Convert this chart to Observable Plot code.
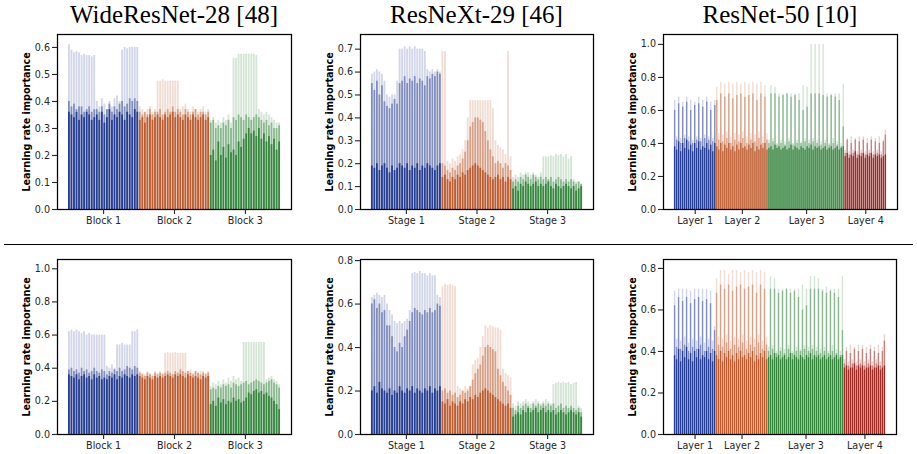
<!DOCTYPE html>
<html><head><meta charset="utf-8">
<script src="https://cdn.jsdelivr.net/npm/d3@7"></script>
<script src="https://cdn.jsdelivr.net/npm/@observablehq/plot@0.6"></script>
<style>
html,body{margin:0;padding:0;background:#fff;}
body{width:917px;height:454px;position:relative;overflow:hidden;font-family:"DejaVu Sans";}
.panel{position:absolute;}
.title{position:absolute;top:2px;font-family:"Liberation Serif";font-size:25px;line-height:1;color:#000;white-space:nowrap;transform:translateX(-50%);}
#sep{position:absolute;left:4px;width:909px;top:243.5px;height:1.3px;background:#000;}
</style></head><body>
<div id="sep"></div>
<script>
// ---------- labels ----------
const titles = ["WideResNet-28 [48]", "ResNeXt-29 [46]", "ResNet-50 [10]"];
const yLabel = "Learning rate importance";
const wrnGroups = ["Block 1", "Block 2", "Block 3"];
const rnxGroups = ["Stage 1", "Stage 2", "Stage 3"];
const r50Groups = ["Layer 1", "Layer 2", "Layer 3", "Layer 4"];
const wrnCounts = [28, 28, 28];
const rnxCounts = [28, 28, 28];
const r50Counts = [21, 26, 38, 21];
const ticks01to06 = [0, 0.1, 0.2, 0.3, 0.4, 0.5, 0.6];
const ticks01to07 = [0, 0.1, 0.2, 0.3, 0.4, 0.5, 0.6, 0.7];
const ticks02to10 = [0, 0.2, 0.4, 0.6, 0.8, 1.0];
const ticks02to08 = [0, 0.2, 0.4, 0.6, 0.8];

// ---------- WideResNet-28, top ----------
const wrnTopLo = [
 .36,.35,.34,.36,.33,.35,.34, .36,.35,.33,.34,.35,.33,.36, .32,.34,.37,.33,.35,.34,.36, .35,.33,.36,.35,.34,.37,.36,
 .33,.34,.32,.34,.35,.33,.34, .35,.34,.33,.35,.34,.35,.36, .34,.35,.34,.33,.35,.34,.33, .35,.34,.33,.34,.35,.33,.34,
 .20,.22,.18,.25,.20,.23,.19, .24,.21,.22,.20,.25,.23,.26, .28,.30,.28,.29,.27,.30,.26, .28,.25,.27,.24,.26,.22,.25];
const wrnTopMid = [
 .40,.38,.39,.37,.38,.38,.36, .37,.38,.36,.37,.37,.36,.38, .35,.37,.39,.36,.38,.37,.39, .40,.38,.39,.41,.40,.41,.40,
 .36,.35,.36,.35,.37,.35,.36, .36,.37,.35,.36,.37,.36,.38, .36,.37,.36,.35,.37,.36,.35, .36,.37,.35,.36,.36,.35,.36,
 .32,.33,.30,.31,.30,.32,.31, .33,.30,.34,.33,.35,.34,.33, .35,.34,.33,.34,.35,.34,.33, .32,.33,.31,.32,.30,.30,.31];
const wrnTopHi = [
 .61,.59,.58,.585,.58,.57,.575, .57,.57,.565,.57,.40,.38,.41, .39,.37,.40,.38,.41,.42,.40, .59,.60,.595,.60,.60,.60,.60,
 .38,.37,.36,.37,.38,.36,.37, .475,.475,.48,.475,.475,.475,.475, .475,.475,.37,.38,.39,.37,.36, .38,.37,.36,.37,.38,.36,.37,
 .33,.34,.32,.33,.32,.34,.33, .35,.32,.56,.56,.575,.575,.575, .575,.575,.575,.575,.57,.37,.36, .35,.36,.35,.34,.33,.32,.32];

// ---------- ResNeXt-29, top ----------
const rnxTopLo = [
 .19,.18,.20,.17,.19,.20,.18, .16,.19,.17,.18,.20,.19,.18, .20,.17,.19,.18,.20,.17,.19, .18,.20,.19,.18,.17,.19,.20,
 .14,.15,.13,.12,.14,.13,.15, .14,.16,.15,.17,.18,.19,.20, .19,.18,.17,.16,.15,.14,.13, .14,.15,.13,.14,.12,.14,.13,
 .09,.10,.08,.11,.10,.12,.11, .10,.11,.12,.10,.11,.10,.11, .12,.10,.09,.11,.10,.09,.10, .11,.10,.09,.10,.08,.09,.10];
const rnxTopMid = [
 .55,.52,.56,.50,.54,.47,.45, .44,.46,.48,.46,.55,.56,.58, .55,.57,.56,.58,.55,.57,.56, .54,.58,.57,.59,.58,.60,.59,
 .20,.19,.17,.16,.18,.17,.19, .20,.22,.25,.30,.36,.38,.40, .40,.39,.38,.34,.30,.26,.23, .20,.21,.20,.18,.20,.19,.17,
 .12,.13,.12,.14,.13,.15,.14, .13,.15,.14,.13,.14,.13,.14, .13,.14,.12,.13,.14,.13,.12, .13,.12,.13,.12,.11,.12,.11];
const rnxTopHi = [
 .59,.60,.61,.60,.59,.56,.50, .49,.50,.50,.56,.70,.70,.71, .70,.71,.70,.71,.70,.70,.70, .69,.61,.60,.61,.60,.61,.60,
 .69,.69,.21,.20,.22,.21,.23, .24,.26,.30,.40,.475,.475,.475, .475,.475,.475,.475,.475,.475,.44, .30,.28,.27,.26,.24,.69,.23,
 .14,.15,.14,.16,.15,.16,.16, .15,.16,.15,.14,.16,.23,.23, .23,.235,.23,.24,.235,.24,.23, .24,.22,.23,.13,.12,.12,.11];

// ---------- ResNet-50, top ----------
const r50TopLo = [
 .38,.36,.41,.35,.40,.37,.42, .36,.39,.35,.40,.37,.41,.36, .38,.37,.40,.36,.39,.35,.40,
 .38,.36,.40,.35,.39,.37,.40, .36,.38,.35,.39,.36,.40,.37, .38,.36,.39,.37,.40,.35,.38, .36,.39,.37,.40,.36,
 .37,.38,.36,.39,.37,.38,.36, .37,.38,.36,.37,.39,.36,.38, .37,.36,.38,.37,.36,.38,.37, .39,.36,.38,.37,.38,.36,.37, .38,.36,.37,.38,.36,.37,.38, .36,.37,.38,
 .32,.34,.31,.33,.32,.35,.31, .33,.32,.34,.31,.33,.32,.34, .31,.33,.32,.33,.31,.32,.33];
const r50TopMid = [
 .60,.42,.64,.40,.62,.43,.65, .41,.60,.40,.63,.42,.64,.41, .62,.43,.65,.42,.60,.41,.63,
 .66,.42,.70,.41,.68,.43,.70, .40,.67,.42,.69,.41,.70,.43, .68,.40,.69,.42,.70,.41,.66, .43,.70,.40,.68,.42,
 .40,.70,.41,.70,.39,.68,.40, .69,.39,.70,.41,.68,.39,.69, .40,.66,.40,.60,.41,.62,.40, .70,.41,.70,.40,.70,.39,.69, .40,.68,.39,.69,.40,.68,.39, .66,.38,.50,
 .34,.42,.33,.40,.34,.42,.33, .41,.34,.42,.33,.40,.34,.42, .33,.41,.34,.40,.33,.41,.45];
const r50TopHi = [
 .66,.44,.68,.43,.65,.45,.68, .44,.66,.42,.65,.44,.68,.43, .66,.45,.68,.44,.65,.43,.66,
 .74,.46,.77,.45,.76,.47,.77, .44,.76,.46,.77,.45,.76,.47, .77,.44,.76,.46,.77,.45,.76, .47,.77,.44,.75,.46,
 .42,.75,.43,.74,.40,.70,.42, .70,.41,.70,.43,.70,.40,.70, .42,.70,.41,.75,.43,.74,.42, 1.0,.43,1.0,.42,1.0,.41,1.0, .42,.70,.40,.70,.43,.70,.41, .70,.40,.76,
 .36,.43,.35,.44,.36,.43,.35, .44,.36,.44,.35,.43,.36,.44, .35,.43,.36,.44,.35,.42,.48];

// ---------- WideResNet-28, bottom ----------
const wrnBotLo = [
 .36,.35,.34,.36,.33,.35,.36, .34,.35,.33,.36,.34,.35,.33, .34,.33,.35,.34,.36,.33,.35, .34,.36,.35,.34,.36,.35,.36,
 .35,.34,.33,.35,.34,.33,.35, .34,.35,.34,.35,.36,.35,.34, .36,.35,.36,.35,.34,.36,.35, .34,.35,.34,.33,.35,.34,.35,
 .18,.20,.17,.22,.19,.21,.18, .20,.19,.22,.20,.21,.19,.20, .22,.25,.24,.26,.27,.25,.26, .24,.25,.23,.22,.20,.18,.15];
const wrnBotMid = [
 .39,.40,.38,.39,.37,.40,.38, .39,.37,.38,.40,.38,.37,.39, .38,.36,.38,.37,.39,.38,.40, .38,.39,.41,.40,.39,.41,.40,
 .37,.36,.35,.37,.36,.35,.37, .36,.37,.36,.37,.38,.37,.36, .38,.37,.39,.38,.37,.38,.37, .36,.38,.37,.36,.37,.36,.37,
 .27,.28,.27,.29,.28,.30,.29, .30,.28,.31,.30,.29,.30,.31, .32,.30,.31,.32,.33,.32,.31, .30,.31,.32,.33,.31,.30,.28];
const wrnBotHi = [
 .62,.63,.62,.63,.62,.61,.62, .60,.61,.60,.60,.60,.60,.60, .60,.41,.40,.42,.40,.54,.54, .55,.54,.54,.54,.62,.62,.63,
 .38,.37,.36,.38,.37,.36,.38, .37,.38,.37,.49,.495,.49,.49, .495,.49,.49,.49,.49,.38,.39, .37,.38,.37,.38,.38,.37,.38,
 .29,.31,.30,.32,.30,.33,.31, .34,.32,.35,.33,.34,.32,.555, .555,.555,.555,.555,.555,.555,.555, .555,.33,.34,.35,.33,.32,.30];

// ---------- ResNeXt-29, bottom ----------
const rnxBotLo = [
 .20,.22,.19,.24,.21,.20,.19, .21,.18,.20,.19,.22,.20,.19, .21,.20,.22,.19,.21,.20,.19, .21,.20,.22,.19,.21,.20,.22,
 .15,.14,.16,.13,.15,.14,.13, .15,.14,.16,.15,.17,.16,.18, .17,.19,.20,.21,.20,.19,.18, .17,.16,.15,.14,.13,.14,.12,
 .08,.09,.10,.09,.11,.10,.12, .10,.11,.12,.10,.11,.12,.10, .11,.10,.11,.09,.10,.11,.10, .09,.10,.11,.10,.09,.10,.08];
const rnxBotMid = [
 .60,.62,.58,.60,.56,.57,.50, .50,.45,.40,.38,.42,.40,.45, .48,.52,.56,.58,.57,.56,.55, .57,.56,.58,.56,.57,.60,.59,
 .20,.21,.19,.20,.18,.19,.17, .18,.20,.19,.20,.22,.25,.28, .30,.32,.36,.40,.41,.40,.39, .38,.30,.27,.24,.22,.20,.18,
 .12,.11,.13,.12,.13,.14,.13, .12,.14,.13,.14,.13,.14,.13, .14,.13,.14,.12,.13,.14,.12, .13,.12,.13,.12,.11,.12,.10];
const rnxBotHi = [
 .63,.64,.65,.64,.63,.64,.60, .57,.55,.52,.51,.52,.51,.52, .53,.57,.74,.745,.74,.75,.74, .74,.73,.74,.73,.73,.64,.63,
 .68,.69,.685,.69,.685,.68,.22, .21,.20,.22,.21,.22,.32,.34, .35,.40,.45,.50,.49,.50,.495, .49,.49,.48,.30,.28,.27,.26,
 .14,.13,.15,.14,.15,.16,.15, .14,.15,.16,.15,.14,.15,.16, .15,.14,.23,.235,.24,.235,.24, .235,.24,.23,.235,.24,.13,.12];

// ---------- ResNet-50, bottom ----------
const r50BotLo = [
 .38,.36,.41,.35,.40,.37,.42, .36,.39,.35,.40,.37,.41,.36, .38,.37,.40,.36,.39,.35,.40,
 .38,.36,.40,.35,.39,.37,.40, .36,.38,.35,.39,.36,.40,.37, .38,.36,.39,.37,.40,.35,.38, .36,.39,.37,.40,.36,
 .37,.38,.36,.39,.37,.38,.36, .37,.38,.36,.37,.39,.36,.38, .37,.36,.38,.37,.36,.38,.37, .39,.36,.38,.37,.38,.36,.37, .38,.36,.37,.38,.36,.37,.38, .36,.37,.38,
 .32,.33,.31,.32,.32,.34,.31, .33,.32,.33,.31,.32,.32,.33, .31,.32,.32,.33,.31,.32,.33];
const r50BotMid = [
 .62,.42,.66,.41,.64,.43,.66, .40,.63,.42,.65,.41,.66,.43, .64,.40,.65,.42,.63,.41,.50,
 .68,.43,.72,.42,.70,.44,.72, .41,.69,.43,.71,.42,.72,.44, .70,.41,.71,.43,.72,.42,.68, .44,.72,.41,.70,.43,
 .40,.70,.41,.70,.39,.68,.40, .69,.39,.70,.41,.68,.39,.69, .40,.66,.40,.60,.41,.62,.40, .70,.41,.70,.40,.70,.39,.69, .40,.68,.39,.69,.40,.68,.39, .66,.38,.50,
 .34,.40,.33,.39,.34,.41,.33, .40,.34,.41,.33,.39,.34,.41, .33,.40,.34,.39,.33,.40,.45];
const r50BotHi = [
 .69,.46,.70,.45,.70,.47,.70, .44,.69,.46,.70,.45,.70,.47, .70,.44,.70,.46,.69,.45,.52,
 .75,.47,.79,.46,.79,.48,.77, .45,.79,.47,.79,.46,.78,.48, .79,.45,.78,.47,.79,.46,.78, .48,.79,.45,.78,.47,
 .42,.76,.43,.75,.40,.70,.42, .70,.41,.70,.43,.70,.40,.70, .42,.70,.41,.72,.43,.70,.42, .76,.43,.76,.42,.75,.41,.70, .42,.71,.40,.70,.43,.70,.41, .70,.40,.76,
 .36,.42,.35,.43,.36,.42,.35, .43,.36,.43,.35,.42,.36,.43, .35,.42,.36,.43,.35,.42,.48];

// ---------- drawing ----------
const palette = ["#001c7f", "#b1400d", "#12711c", "#8c0800"];
const layerStyle = [["hi", 0.18], ["mid", 0.39], ["lo", 0.7]];

function drawPanel(cfg) {
  const n = cfg.lo.length;
  const groupOf = cfg.counts.flatMap((c, g) => Array.from({length: c}, () => g));
  const centers = [];
  let s = 0;
  for (const c of cfg.counts) { centers.push(s + (c - 1) / 2); s += c; }
  const pad = 0.05 * n;
  const marks = [];
  for (const [key, op] of layerStyle) {
    const rowsAll = cfg[key].map((v, i) => ({i, v, g: groupOf[i]}));
    cfg.counts.forEach((c, g) => {
      marks.push(Plot.rect(rowsAll.filter(d => d.g === g), {
        x1: d => d.i - 0.5, x2: d => d.i + 0.5, y1: 0, y2: "v",
        fill: palette[g], fillOpacity: op, insetLeft: cfg.inset, insetRight: cfg.inset
      }));
    });
  }
  marks.push(Plot.frame({stroke: "#000", strokeWidth: 1.25}));
  marks.push(Plot.axisY(cfg.yTicks, {tickFormat: d3.format(".1f"), tickSize: 5, tickPadding: 2.5, label: null, strokeWidth: 1.1}));
  marks.push(Plot.axisX(centers, {tickSize: 5, tickPadding: 3, tickFormat: d => cfg.labels[centers.indexOf(d)], label: null, strokeWidth: 1.1}));
  marks.push(Plot.text([yLabel], {text: d => d, frameAnchor: "left", textAnchor: "middle", lineAnchor: "middle", dx: -31, rotate: -90, fontWeight: "bold", fontSize: 9.7, fill: "#000"}));
  const svg = Plot.plot({
    width: 300, height: cfg.h,
    marginLeft: 57, marginRight: cfg.mr, marginTop: cfg.mt, marginBottom: cfg.mb,
    x: {domain: [-0.5 - pad, n - 0.5 + pad]},
    y: {domain: [0, cfg.yMax]},
    style: {fontFamily: "DejaVu Sans", fontSize: "9.6px", color: "#262626", background: "transparent", overflow: "visible"},
    marks
  });
  const div = document.createElement("div");
  div.className = "panel";
  div.style.left = cfg.left + "px";
  div.style.top = cfg.top + "px";
  div.appendChild(svg);
  document.body.appendChild(div);
}

const topRow = {top: 24, h: 211, mt: 10, mb: 26};
const botRow = {top: 249, h: 205, mt: 10, mb: 20};

drawPanel({...topRow, left: 0, mr: 9, lo: wrnTopLo, mid: wrnTopMid, hi: wrnTopHi, counts: wrnCounts, labels: wrnGroups, yMax: 0.648, yTicks: ticks01to06, inset: 0.35});
drawPanel({...topRow, left: 303, mr: 10, lo: rnxTopLo, mid: rnxTopMid, hi: rnxTopHi, counts: rnxCounts, labels: rnxGroups, yMax: 0.764, yTicks: ticks01to07, inset: 0.35});
drawPanel({...topRow, left: 606, mr: 9, lo: r50TopLo, mid: r50TopMid, hi: r50TopHi, counts: r50Counts, labels: r50Groups, yMax: 1.06, yTicks: ticks02to10, inset: 0.3});
drawPanel({...botRow, left: 0, mr: 9, lo: wrnBotLo, mid: wrnBotMid, hi: wrnBotHi, counts: wrnCounts, labels: wrnGroups, yMax: 1.056, yTicks: ticks02to10, inset: 0.35});
drawPanel({...botRow, left: 303, mr: 10, lo: rnxBotLo, mid: rnxBotMid, hi: rnxBotHi, counts: rnxCounts, labels: rnxGroups, yMax: 0.805, yTicks: ticks02to08, inset: 0.35});
drawPanel({...botRow, left: 606, mr: 10, lo: r50BotLo, mid: r50BotMid, hi: r50BotHi, counts: r50Counts, labels: r50Groups, yMax: 0.843, yTicks: ticks02to08, inset: 0.3});

const centersX = [174, 476.5, 780];
titles.forEach((t, k) => {
  const d = document.createElement("div");
  d.className = "title";
  d.style.left = centersX[k] + "px";
  d.textContent = t;
  document.body.appendChild(d);
});
</script>
</body></html>
